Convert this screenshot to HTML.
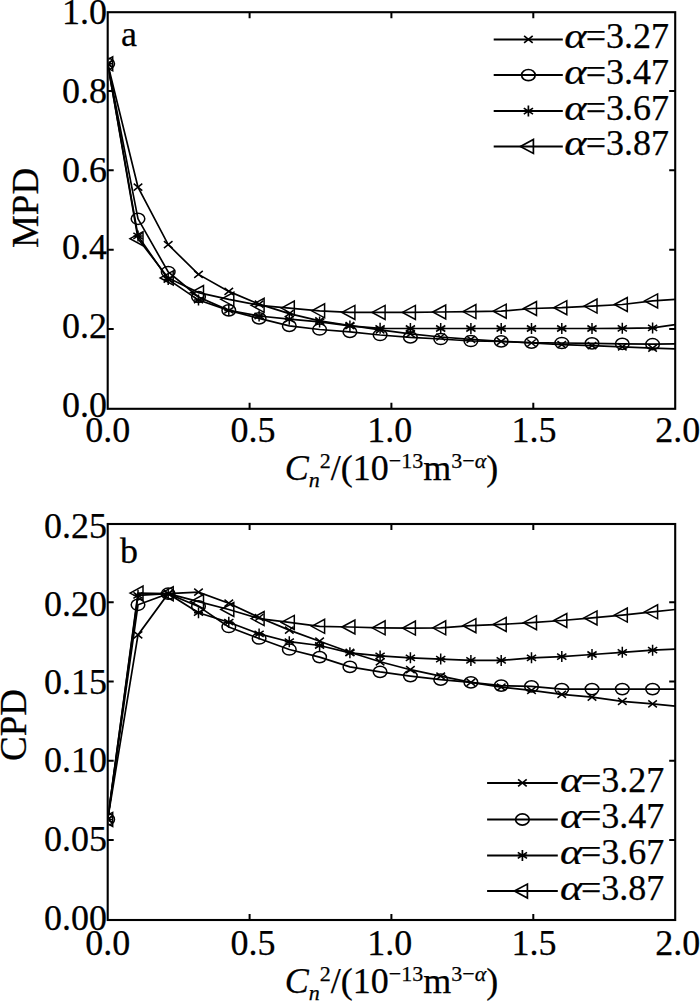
<!DOCTYPE html>
<html><head><meta charset="utf-8"><style>html,body{margin:0;padding:0;background:#fff;width:700px;height:1001px;overflow:hidden}svg{display:block}</style></head>
<body>
<svg width="700" height="1001" viewBox="0 0 700 1001">
<style>
.ax{fill:none;stroke:#000;stroke-width:2.1}
.tk{fill:none;stroke:#000;stroke-width:2}
.ln{fill:none;stroke:#000;stroke-width:1.7}
.m{fill:none;stroke:#000;stroke-width:1.5}
text{font-family:"Liberation Serif",serif;fill:#000}
.tl{font-size:36px}
.lgl{stroke-width:2}
.lgm{stroke-width:1.7}
text{stroke:#000;stroke-width:0.25px}
.lg{font-size:36px}
.tt{font-size:36px}
.al{font-style:italic}
</style>
<defs><clipPath id="c1"><rect x="108.5" y="0" width="600" height="408"/></clipPath><clipPath id="c2"><rect x="108.5" y="500" width="600" height="419"/></clipPath></defs>
<rect width="700" height="1001" fill="#fff"/>
<rect x="107.7" y="12.2" width="567.5" height="396.6" class="ax"/>
<path d="M107.7 329h6M675.2 329h-6M107.7 249.7h6M675.2 249.7h-6M107.7 170.3h6M675.2 170.3h-6M107.7 91h6M675.2 91h-6M249.6 408.8v-6M249.6 12.2v6M391.4 408.8v-6M391.4 12.2v6M533.3 408.8v-6M533.3 12.2v6" class="tk"/>
<g clip-path="url(#c1)">
<path d="M107.7 63.8 L138 187.1 L168.2 244.6 L198.5 274.4 L228.8 291.4 L259.1 304.1 L289.3 313.6 L319.6 320.8 L349.9 325.5 L380.1 329.9 L410.4 333.8 L440.7 337 L470.9 339.4 L501.2 341.4 L531.5 343 L561.8 344.6 L592 345.7 L622.3 346.9 L652.6 348.2 L675.2 348.9" class="ln"/>
<path d="M103.4 60.3L112 67.3M103.4 67.3L112 60.3" class="m"/>
<path d="M133.7 183.6L142.3 190.6M133.7 190.6L142.3 183.6" class="m"/>
<path d="M163.9 241.1L172.5 248.1M163.9 248.1L172.5 241.1" class="m"/>
<path d="M194.2 270.9L202.8 277.9M194.2 277.9L202.8 270.9" class="m"/>
<path d="M224.5 287.9L233.1 294.9M224.5 294.9L233.1 287.9" class="m"/>
<path d="M254.8 300.6L263.4 307.6M254.8 307.6L263.4 300.6" class="m"/>
<path d="M285 310.1L293.6 317.1M285 317.1L293.6 310.1" class="m"/>
<path d="M315.3 317.3L323.9 324.3M315.3 324.3L323.9 317.3" class="m"/>
<path d="M345.6 322L354.2 329M345.6 329L354.2 322" class="m"/>
<path d="M375.8 326.4L384.4 333.4M375.8 333.4L384.4 326.4" class="m"/>
<path d="M406.1 330.3L414.7 337.3M406.1 337.3L414.7 330.3" class="m"/>
<path d="M436.4 333.5L445 340.5M436.4 340.5L445 333.5" class="m"/>
<path d="M466.6 335.9L475.2 342.9M466.6 342.9L475.2 335.9" class="m"/>
<path d="M496.9 337.9L505.5 344.9M496.9 344.9L505.5 337.9" class="m"/>
<path d="M527.2 339.5L535.8 346.5M527.2 346.5L535.8 339.5" class="m"/>
<path d="M557.5 341.1L566 348.1M557.5 348.1L566 341.1" class="m"/>
<path d="M587.7 342.2L596.3 349.2M587.7 349.2L596.3 342.2" class="m"/>
<path d="M618 343.4L626.6 350.4M618 350.4L626.6 343.4" class="m"/>
<path d="M648.3 344.7L656.9 351.7M648.3 351.7L656.9 344.7" class="m"/>
<path d="M107.7 63.8 L138 218.8 L168.2 272 L198.5 297 L228.8 310.4 L259.1 318.4 L289.3 325.9 L319.6 329.5 L349.9 331.9 L380.1 335 L410.4 337.4 L440.7 339 L470.9 341 L501.2 341.4 L531.5 342.6 L561.8 343 L592 343.4 L622.3 343.8 L652.6 344.2 L675.2 343.8" class="ln"/>
<ellipse cx="107.7" cy="63.8" rx="6.8" ry="5.6" class="m"/>
<ellipse cx="138" cy="218.8" rx="6.8" ry="5.6" class="m"/>
<ellipse cx="168.2" cy="272" rx="6.8" ry="5.6" class="m"/>
<ellipse cx="198.5" cy="297" rx="6.8" ry="5.6" class="m"/>
<ellipse cx="228.8" cy="310.4" rx="6.8" ry="5.6" class="m"/>
<ellipse cx="259.1" cy="318.4" rx="6.8" ry="5.6" class="m"/>
<ellipse cx="289.3" cy="325.9" rx="6.8" ry="5.6" class="m"/>
<ellipse cx="319.6" cy="329.5" rx="6.8" ry="5.6" class="m"/>
<ellipse cx="349.9" cy="331.9" rx="6.8" ry="5.6" class="m"/>
<ellipse cx="380.1" cy="335" rx="6.8" ry="5.6" class="m"/>
<ellipse cx="410.4" cy="337.4" rx="6.8" ry="5.6" class="m"/>
<ellipse cx="440.7" cy="339" rx="6.8" ry="5.6" class="m"/>
<ellipse cx="470.9" cy="341" rx="6.8" ry="5.6" class="m"/>
<ellipse cx="501.2" cy="341.4" rx="6.8" ry="5.6" class="m"/>
<ellipse cx="531.5" cy="342.6" rx="6.8" ry="5.6" class="m"/>
<ellipse cx="561.8" cy="343" rx="6.8" ry="5.6" class="m"/>
<ellipse cx="592" cy="343.4" rx="6.8" ry="5.6" class="m"/>
<ellipse cx="622.3" cy="343.8" rx="6.8" ry="5.6" class="m"/>
<ellipse cx="652.6" cy="344.2" rx="6.8" ry="5.6" class="m"/>
<path d="M107.7 63.8 L138 235.9 L168.2 279.5 L198.5 300.1 L228.8 310.4 L259.1 316 L289.3 319.2 L319.6 321.9 L349.9 325.9 L380.1 328.3 L410.4 328.5 L440.7 328.5 L470.9 328.5 L501.2 328.5 L531.5 328.5 L561.8 328.5 L592 328.5 L622.3 328.3 L652.6 327.9 L675.2 324.7" class="ln"/>
<path d="M107.7 58.3V69.3M103.1 60.8L112.3 66.8M103.1 66.8L112.3 60.8M103.2 63.8H112.2" class="m"/>
<path d="M138 230.4V241.4M133.4 232.9L142.6 238.9M133.4 238.9L142.6 232.9M133.5 235.9H142.5" class="m"/>
<path d="M168.2 274V285M163.6 276.5L172.8 282.5M163.6 282.5L172.8 276.5M163.7 279.5H172.7" class="m"/>
<path d="M198.5 294.6V305.6M193.9 297.1L203.1 303.1M193.9 303.1L203.1 297.1M194 300.1H203" class="m"/>
<path d="M228.8 304.9V315.9M224.2 307.4L233.4 313.4M224.2 313.4L233.4 307.4M224.3 310.4H233.3" class="m"/>
<path d="M259.1 310.5V321.5M254.5 313L263.7 319M254.5 319L263.7 313M254.6 316H263.6" class="m"/>
<path d="M289.3 313.7V324.7M284.7 316.2L293.9 322.2M284.7 322.2L293.9 316.2M284.8 319.2H293.8" class="m"/>
<path d="M319.6 316.4V327.4M315 318.9L324.2 324.9M315 324.9L324.2 318.9M315.1 321.9H324.1" class="m"/>
<path d="M349.9 320.4V331.4M345.3 322.9L354.5 328.9M345.3 328.9L354.5 322.9M345.4 325.9H354.4" class="m"/>
<path d="M380.1 322.8V333.8M375.5 325.3L384.7 331.3M375.5 331.3L384.7 325.3M375.6 328.3H384.6" class="m"/>
<path d="M410.4 323V334M405.8 325.5L415 331.5M405.8 331.5L415 325.5M405.9 328.5H414.9" class="m"/>
<path d="M440.7 323V334M436.1 325.5L445.3 331.5M436.1 331.5L445.3 325.5M436.2 328.5H445.2" class="m"/>
<path d="M470.9 323V334M466.3 325.5L475.5 331.5M466.3 331.5L475.5 325.5M466.4 328.5H475.4" class="m"/>
<path d="M501.2 323V334M496.6 325.5L505.8 331.5M496.6 331.5L505.8 325.5M496.7 328.5H505.7" class="m"/>
<path d="M531.5 323V334M526.9 325.5L536.1 331.5M526.9 331.5L536.1 325.5M527 328.5H536" class="m"/>
<path d="M561.8 323V334M557.1 325.5L566.4 331.5M557.1 331.5L566.4 325.5M557.2 328.5H566.2" class="m"/>
<path d="M592 323V334M587.4 325.5L596.6 331.5M587.4 331.5L596.6 325.5M587.5 328.5H596.5" class="m"/>
<path d="M622.3 322.8V333.8M617.7 325.3L626.9 331.3M617.7 331.3L626.9 325.3M617.8 328.3H626.8" class="m"/>
<path d="M652.6 322.4V333.4M648 324.9L657.2 330.9M648 330.9L657.2 324.9M648.1 327.9H657.1" class="m"/>
<path d="M107.7 63.8 L138 238.7 L168.2 277.9 L198.5 292.6 L228.8 299.3 L259.1 305.3 L289.3 308.1 L319.6 310.8 L349.9 312.4 L380.1 312.4 L410.4 312.4 L440.7 312 L470.9 311.6 L501.2 311.2 L531.5 308.5 L561.8 307.7 L592 306.1 L622.3 304.5 L652.6 300.9 L675.2 299.3" class="ln"/>
<path d="M99.7 63.8L112.7 56.8V70.8Z" class="m"/>
<path d="M130 238.7L143 231.7V245.7Z" class="m"/>
<path d="M160.2 277.9L173.2 270.9V284.9Z" class="m"/>
<path d="M190.5 292.6L203.5 285.6V299.6Z" class="m"/>
<path d="M220.8 299.3L233.8 292.3V306.3Z" class="m"/>
<path d="M251.1 305.3L264.1 298.3V312.3Z" class="m"/>
<path d="M281.3 308.1L294.3 301.1V315.1Z" class="m"/>
<path d="M311.6 310.8L324.6 303.8V317.8Z" class="m"/>
<path d="M341.9 312.4L354.9 305.4V319.4Z" class="m"/>
<path d="M372.1 312.4L385.1 305.4V319.4Z" class="m"/>
<path d="M402.4 312.4L415.4 305.4V319.4Z" class="m"/>
<path d="M432.7 312L445.7 305V319Z" class="m"/>
<path d="M462.9 311.6L475.9 304.6V318.6Z" class="m"/>
<path d="M493.2 311.2L506.2 304.2V318.2Z" class="m"/>
<path d="M523.5 308.5L536.5 301.5V315.5Z" class="m"/>
<path d="M553.8 307.7L566.8 300.7V314.7Z" class="m"/>
<path d="M584 306.1L597 299.1V313.1Z" class="m"/>
<path d="M614.3 304.5L627.3 297.5V311.5Z" class="m"/>
<path d="M644.6 300.9L657.6 293.9V307.9Z" class="m"/>
</g>
<path d="M493.7 39.4H562.8" class="ln lgl"/>
<path d="M524.1 35.9L532.7 42.9M524.1 42.9L532.7 35.9" class="m lgm"/>
<text transform="translate(564.3 48.2) scale(1.2 1)" class="lg al">α</text>
<text x="669" y="48.2" class="lg" text-anchor="end">=3.27</text>
<path d="M493.7 75.1H562.8" class="ln lgl"/>
<ellipse cx="528.4" cy="75.1" rx="6.8" ry="5.6" class="m lgm"/>
<text transform="translate(564.3 83.9) scale(1.2 1)" class="lg al">α</text>
<text x="669" y="83.9" class="lg" text-anchor="end">=3.47</text>
<path d="M493.7 111.1H562.8" class="ln lgl"/>
<path d="M528.4 105.6V116.6M523.8 108.1L533 114.1M523.8 114.1L533 108.1M523.9 111.1H532.9" class="m lgm"/>
<text transform="translate(564.3 119.9) scale(1.2 1)" class="lg al">α</text>
<text x="669" y="119.9" class="lg" text-anchor="end">=3.67</text>
<path d="M493.7 146.4H562.8" class="ln lgl"/>
<path d="M520.4 146.4L533.4 139.4V153.4Z" class="m lgm"/>
<text transform="translate(564.3 155.2) scale(1.2 1)" class="lg al">α</text>
<text x="669" y="155.2" class="lg" text-anchor="end">=3.87</text>
<text x="107.1" y="24.1" class="tl" text-anchor="end">1.0</text>
<text x="107.1" y="103.1" class="tl" text-anchor="end">0.8</text>
<text x="107.1" y="182.1" class="tl" text-anchor="end">0.6</text>
<text x="107.1" y="259.1" class="tl" text-anchor="end">0.4</text>
<text x="107.1" y="338.1" class="tl" text-anchor="end">0.2</text>
<text x="107.1" y="416.6" class="tl" text-anchor="end">0.0</text>
<text x="107.7" y="442.2" class="tl" text-anchor="middle">0.0</text>
<text x="253.1" y="442.2" class="tl" text-anchor="middle">0.5</text>
<text x="389.8" y="442.2" class="tl" text-anchor="middle">1.0</text>
<text x="534" y="442.2" class="tl" text-anchor="middle">1.5</text>
<text x="677.8" y="442.2" class="tl" text-anchor="middle">2.0</text>
<text x="121" y="45.5" class="tl">a</text>
<text transform="translate(37.8 208) rotate(-90)" class="tt" style="font-size:37px" text-anchor="middle">MPD</text>
<text x="391.5" y="480" class="tt" text-anchor="middle"><tspan font-style="italic">C</tspan><tspan font-style="italic" font-size="22" dy="7">n</tspan><tspan font-size="22" dy="-19">2</tspan><tspan dy="12">/(10</tspan><tspan font-size="22" dy="-12">−13</tspan><tspan dy="12">m</tspan><tspan font-size="22" dy="-12">3−<tspan font-style="italic">α</tspan></tspan><tspan dy="12">)</tspan></text>
<rect x="107.7" y="524" width="567.5" height="396" class="ax"/>
<path d="M107.7 839.9h6M675.2 839.9h-6M107.7 760.7h6M675.2 760.7h-6M107.7 681.5h6M675.2 681.5h-6M107.7 602.3h6M675.2 602.3h-6M249.6 920v-6M249.6 524v6M391.4 920v-6M391.4 524v6M533.3 920v-6M533.3 524v6" class="tk"/>
<g clip-path="url(#c2)">
<path d="M107.7 819.4 L138 634.9 L168.2 593.7 L198.5 592.1 L228.8 603.2 L259.1 617.5 L289.3 630.1 L319.6 641.2 L349.9 652.3 L380.1 661.8 L410.4 669.7 L440.7 676.1 L470.9 682.4 L501.2 687.2 L531.5 690.3 L561.8 694.4 L592 697.1 L622.3 701.4 L652.6 703.9 L675.2 706.2" class="ln"/>
<path d="M103.4 815.9L112 822.9M103.4 822.9L112 815.9" class="m"/>
<path d="M133.7 631.4L142.3 638.4M133.7 638.4L142.3 631.4" class="m"/>
<path d="M163.9 590.2L172.5 597.2M163.9 597.2L172.5 590.2" class="m"/>
<path d="M194.2 588.6L202.8 595.6M194.2 595.6L202.8 588.6" class="m"/>
<path d="M224.5 599.7L233.1 606.7M224.5 606.7L233.1 599.7" class="m"/>
<path d="M254.8 614L263.4 621M254.8 621L263.4 614" class="m"/>
<path d="M285 626.6L293.6 633.6M285 633.6L293.6 626.6" class="m"/>
<path d="M315.3 637.7L323.9 644.7M315.3 644.7L323.9 637.7" class="m"/>
<path d="M345.6 648.8L354.2 655.8M345.6 655.8L354.2 648.8" class="m"/>
<path d="M375.8 658.3L384.4 665.3M375.8 665.3L384.4 658.3" class="m"/>
<path d="M406.1 666.2L414.7 673.2M406.1 673.2L414.7 666.2" class="m"/>
<path d="M436.4 672.6L445 679.6M436.4 679.6L445 672.6" class="m"/>
<path d="M466.6 678.9L475.2 685.9M466.6 685.9L475.2 678.9" class="m"/>
<path d="M496.9 683.7L505.5 690.7M496.9 690.7L505.5 683.7" class="m"/>
<path d="M527.2 686.8L535.8 693.8M527.2 693.8L535.8 686.8" class="m"/>
<path d="M557.5 690.9L566 697.9M557.5 697.9L566 690.9" class="m"/>
<path d="M587.7 693.6L596.3 700.6M587.7 700.6L596.3 693.6" class="m"/>
<path d="M618 697.9L626.6 704.9M618 704.9L626.6 697.9" class="m"/>
<path d="M648.3 700.4L656.9 707.4M648.3 707.4L656.9 700.4" class="m"/>
<path d="M107.7 819.4 L138 604.8 L168.2 593.7 L198.5 606.4 L228.8 627 L259.1 638.5 L289.3 649.5 L319.6 657.1 L349.9 666.9 L380.1 671.9 L410.4 676.1 L440.7 679.7 L470.9 682.4 L501.2 685.6 L531.5 686.4 L561.8 689.1 L592 689.1 L622.3 689.1 L652.6 689.1 L675.2 689.1" class="ln"/>
<ellipse cx="107.7" cy="819.4" rx="6.8" ry="5.6" class="m"/>
<ellipse cx="138" cy="604.8" rx="6.8" ry="5.6" class="m"/>
<ellipse cx="168.2" cy="593.7" rx="6.8" ry="5.6" class="m"/>
<ellipse cx="198.5" cy="606.4" rx="6.8" ry="5.6" class="m"/>
<ellipse cx="228.8" cy="627" rx="6.8" ry="5.6" class="m"/>
<ellipse cx="259.1" cy="638.5" rx="6.8" ry="5.6" class="m"/>
<ellipse cx="289.3" cy="649.5" rx="6.8" ry="5.6" class="m"/>
<ellipse cx="319.6" cy="657.1" rx="6.8" ry="5.6" class="m"/>
<ellipse cx="349.9" cy="666.9" rx="6.8" ry="5.6" class="m"/>
<ellipse cx="380.1" cy="671.9" rx="6.8" ry="5.6" class="m"/>
<ellipse cx="410.4" cy="676.1" rx="6.8" ry="5.6" class="m"/>
<ellipse cx="440.7" cy="679.7" rx="6.8" ry="5.6" class="m"/>
<ellipse cx="470.9" cy="682.4" rx="6.8" ry="5.6" class="m"/>
<ellipse cx="501.2" cy="685.6" rx="6.8" ry="5.6" class="m"/>
<ellipse cx="531.5" cy="686.4" rx="6.8" ry="5.6" class="m"/>
<ellipse cx="561.8" cy="689.1" rx="6.8" ry="5.6" class="m"/>
<ellipse cx="592" cy="689.1" rx="6.8" ry="5.6" class="m"/>
<ellipse cx="622.3" cy="689.1" rx="6.8" ry="5.6" class="m"/>
<ellipse cx="652.6" cy="689.1" rx="6.8" ry="5.6" class="m"/>
<path d="M107.7 819.4 L138 595.3 L168.2 593.7 L198.5 612.7 L228.8 622.2 L259.1 633.9 L289.3 641.7 L319.6 645.5 L349.9 652.8 L380.1 655.9 L410.4 657.8 L440.7 659.1 L470.9 660.4 L501.2 660.4 L531.5 657.8 L561.8 656.6 L592 654.5 L622.3 652.3 L652.6 650.2 L675.2 649.1" class="ln"/>
<path d="M107.7 813.9V824.9M103.1 816.4L112.3 822.4M103.1 822.4L112.3 816.4M103.2 819.4H112.2" class="m"/>
<path d="M138 589.8V600.8M133.4 592.3L142.6 598.3M133.4 598.3L142.6 592.3M133.5 595.3H142.5" class="m"/>
<path d="M168.2 588.2V599.2M163.6 590.7L172.8 596.7M163.6 596.7L172.8 590.7M163.7 593.7H172.7" class="m"/>
<path d="M198.5 607.2V618.2M193.9 609.7L203.1 615.7M193.9 615.7L203.1 609.7M194 612.7H203" class="m"/>
<path d="M228.8 616.7V627.7M224.2 619.2L233.4 625.2M224.2 625.2L233.4 619.2M224.3 622.2H233.3" class="m"/>
<path d="M259.1 628.4V639.4M254.5 630.9L263.7 636.9M254.5 636.9L263.7 630.9M254.6 633.9H263.6" class="m"/>
<path d="M289.3 636.2V647.2M284.7 638.7L293.9 644.7M284.7 644.7L293.9 638.7M284.8 641.7H293.8" class="m"/>
<path d="M319.6 640V651M315 642.5L324.2 648.5M315 648.5L324.2 642.5M315.1 645.5H324.1" class="m"/>
<path d="M349.9 647.3V658.3M345.3 649.8L354.5 655.8M345.3 655.8L354.5 649.8M345.4 652.8H354.4" class="m"/>
<path d="M380.1 650.4V661.4M375.5 652.9L384.7 658.9M375.5 658.9L384.7 652.9M375.6 655.9H384.6" class="m"/>
<path d="M410.4 652.3V663.3M405.8 654.8L415 660.8M405.8 660.8L415 654.8M405.9 657.8H414.9" class="m"/>
<path d="M440.7 653.6V664.6M436.1 656.1L445.3 662.1M436.1 662.1L445.3 656.1M436.2 659.1H445.2" class="m"/>
<path d="M470.9 654.9V665.9M466.3 657.4L475.5 663.4M466.3 663.4L475.5 657.4M466.4 660.4H475.4" class="m"/>
<path d="M501.2 654.9V665.9M496.6 657.4L505.8 663.4M496.6 663.4L505.8 657.4M496.7 660.4H505.7" class="m"/>
<path d="M531.5 652.3V663.3M526.9 654.8L536.1 660.8M526.9 660.8L536.1 654.8M527 657.8H536" class="m"/>
<path d="M561.8 651.1V662.1M557.1 653.6L566.4 659.6M557.1 659.6L566.4 653.6M557.2 656.6H566.2" class="m"/>
<path d="M592 649V660M587.4 651.5L596.6 657.5M587.4 657.5L596.6 651.5M587.5 654.5H596.5" class="m"/>
<path d="M622.3 646.8V657.8M617.7 649.3L626.9 655.3M617.7 655.3L626.9 649.3M617.8 652.3H626.8" class="m"/>
<path d="M652.6 644.7V655.7M648 647.2L657.2 653.2M648 653.2L657.2 647.2M648.1 650.2H657.1" class="m"/>
<path d="M107.7 819.4 L138 593.1 L168.2 593.7 L198.5 601.6 L228.8 609.5 L259.1 618.6 L289.3 622.4 L319.6 626.3 L349.9 627 L380.1 627.8 L410.4 628.1 L440.7 627.8 L470.9 625.7 L501.2 624.4 L531.5 622.7 L561.8 620.5 L592 617.9 L622.3 615.1 L652.6 611.8 L675.2 609.5" class="ln"/>
<path d="M99.7 819.4L112.7 812.4V826.4Z" class="m"/>
<path d="M130 593.1L143 586.1V600.1Z" class="m"/>
<path d="M160.2 593.7L173.2 586.7V600.7Z" class="m"/>
<path d="M190.5 601.6L203.5 594.6V608.6Z" class="m"/>
<path d="M220.8 609.5L233.8 602.5V616.5Z" class="m"/>
<path d="M251.1 618.6L264.1 611.6V625.6Z" class="m"/>
<path d="M281.3 622.4L294.3 615.4V629.4Z" class="m"/>
<path d="M311.6 626.3L324.6 619.3V633.3Z" class="m"/>
<path d="M341.9 627L354.9 620V634Z" class="m"/>
<path d="M372.1 627.8L385.1 620.8V634.8Z" class="m"/>
<path d="M402.4 628.1L415.4 621.1V635.1Z" class="m"/>
<path d="M432.7 627.8L445.7 620.8V634.8Z" class="m"/>
<path d="M462.9 625.7L475.9 618.7V632.7Z" class="m"/>
<path d="M493.2 624.4L506.2 617.4V631.4Z" class="m"/>
<path d="M523.5 622.7L536.5 615.7V629.7Z" class="m"/>
<path d="M553.8 620.5L566.8 613.5V627.5Z" class="m"/>
<path d="M584 617.9L597 610.9V624.9Z" class="m"/>
<path d="M614.3 615.1L627.3 608.1V622.1Z" class="m"/>
<path d="M644.6 611.8L657.6 604.8V618.8Z" class="m"/>
</g>
<path d="M487.1 782.9H557.8" class="ln lgl"/>
<path d="M518.1 779.4L526.7 786.4M518.1 786.4L526.7 779.4" class="m lgm"/>
<text transform="translate(560.1 791.7) scale(1.2 1)" class="lg al">α</text>
<text x="664.3" y="791.7" class="lg" text-anchor="end">=3.27</text>
<path d="M487.1 819.5H557.8" class="ln lgl"/>
<ellipse cx="522.4" cy="819.5" rx="6.8" ry="5.6" class="m lgm"/>
<text transform="translate(560.1 828.3) scale(1.2 1)" class="lg al">α</text>
<text x="664.3" y="828.3" class="lg" text-anchor="end">=3.47</text>
<path d="M487.1 855.4H557.8" class="ln lgl"/>
<path d="M522.4 849.9V860.9M517.8 852.4L527 858.4M517.8 858.4L527 852.4M517.9 855.4H526.9" class="m lgm"/>
<text transform="translate(560.1 864.2) scale(1.2 1)" class="lg al">α</text>
<text x="664.3" y="864.2" class="lg" text-anchor="end">=3.67</text>
<path d="M487.1 891.1H557.8" class="ln lgl"/>
<path d="M514.4 891.1L527.4 884.1V898.1Z" class="m lgm"/>
<text transform="translate(560.1 899.9) scale(1.2 1)" class="lg al">α</text>
<text x="664.3" y="899.9" class="lg" text-anchor="end">=3.87</text>
<text x="107.1" y="537.5" class="tl" text-anchor="end">0.25</text>
<text x="107.1" y="615.6" class="tl" text-anchor="end">0.20</text>
<text x="107.1" y="694.2" class="tl" text-anchor="end">0.15</text>
<text x="107.1" y="771.8" class="tl" text-anchor="end">0.10</text>
<text x="107.1" y="851" class="tl" text-anchor="end">0.05</text>
<text x="107.1" y="929.6" class="tl" text-anchor="end">0.00</text>
<text x="107.7" y="954.7" class="tl" text-anchor="middle">0.0</text>
<text x="253.1" y="954.7" class="tl" text-anchor="middle">0.5</text>
<text x="389.8" y="954.7" class="tl" text-anchor="middle">1.0</text>
<text x="534" y="954.7" class="tl" text-anchor="middle">1.5</text>
<text x="677.8" y="954.7" class="tl" text-anchor="middle">2.0</text>
<text x="120" y="562.5" class="tl">b</text>
<text transform="translate(26.2 725) rotate(-90)" class="tt" style="font-size:37px" text-anchor="middle">CPD</text>
<text x="391.5" y="993" class="tt" text-anchor="middle"><tspan font-style="italic">C</tspan><tspan font-style="italic" font-size="22" dy="7">n</tspan><tspan font-size="22" dy="-19">2</tspan><tspan dy="12">/(10</tspan><tspan font-size="22" dy="-12">−13</tspan><tspan dy="12">m</tspan><tspan font-size="22" dy="-12">3−<tspan font-style="italic">α</tspan></tspan><tspan dy="12">)</tspan></text>
</svg>
</body></html>
